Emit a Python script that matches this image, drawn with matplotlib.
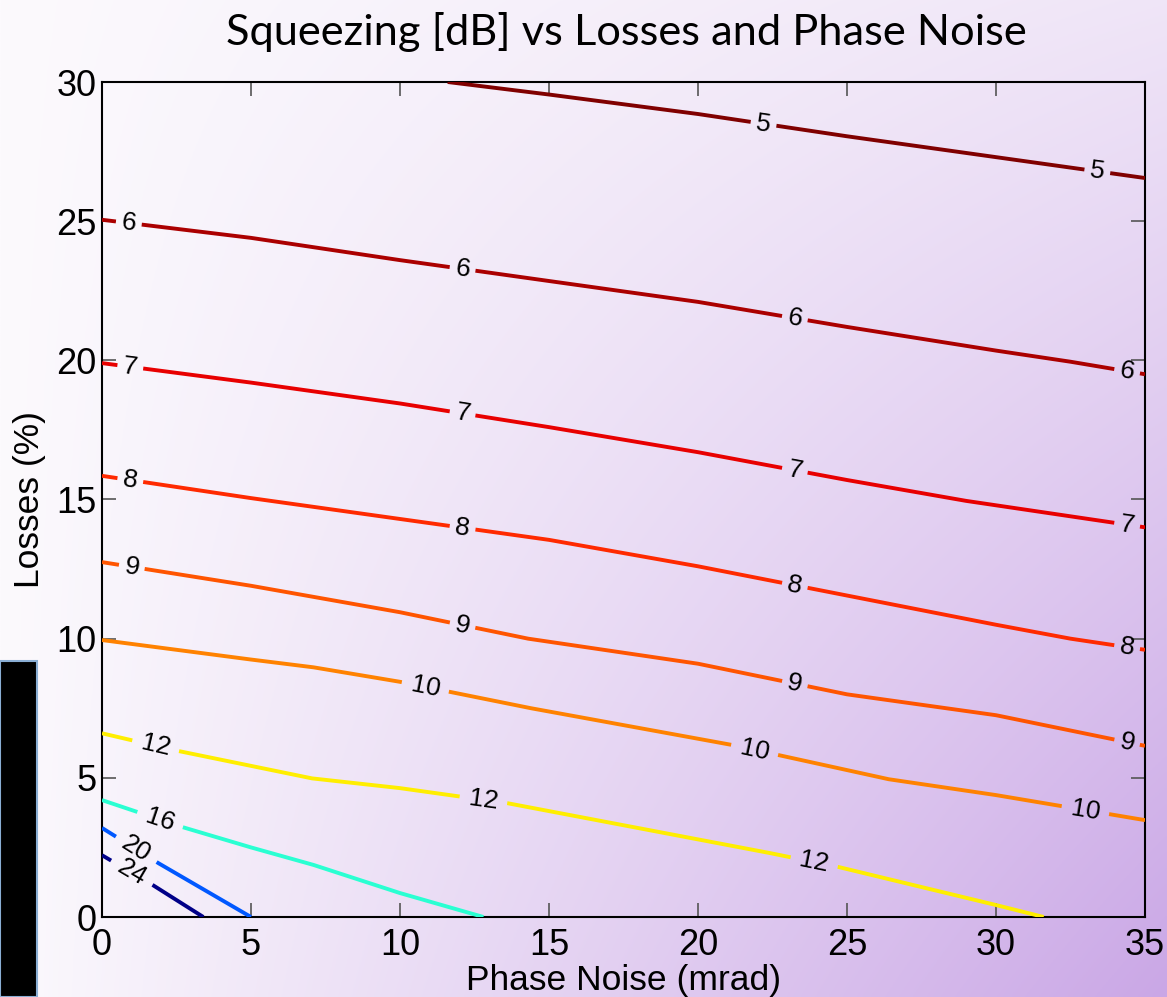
import numpy as np
import matplotlib
matplotlib.use("Agg")
import matplotlib.pyplot as plt
from matplotlib.patches import Rectangle

# ---------------- data ----------------
levels = [5, 6, 7, 8, 9, 10, 12, 16, 20, 24]

pn_5 = [11.6, 15, 20, 25, 30, 35]
loss_5 = [30.0, 29.55, 28.85, 28.05, 27.3, 26.55]

pn_6 = [0, 5, 10, 15, 20, 25, 30, 32.5, 35]
loss_6 = [25.05, 24.4, 23.6, 22.85, 22.1, 21.2, 20.35, 19.95, 19.5]

pn_7 = [0, 5, 10, 15, 20, 25, 29, 35]
loss_7 = [19.9, 19.2, 18.45, 17.6, 16.7, 15.7, 14.95, 14.0]

pn_8 = [0, 5, 10, 15, 20, 25, 30, 32.5, 35]
loss_8 = [15.85, 15.05, 14.3, 13.55, 12.6, 11.55, 10.5, 10.0, 9.6]

pn_9 = [0, 5, 10, 14.3, 20, 25, 30, 35]
loss_9 = [12.75, 11.9, 10.95, 10.0, 9.1, 8.0, 7.25, 6.15]

pn_10 = [0, 5, 7.1, 10, 14.4, 21.2, 26.4, 30, 35]
loss_10 = [9.95, 9.25, 8.97, 8.45, 7.5, 6.17, 4.95, 4.38, 3.48]

pn_12 = [0, 2.4, 7.05, 10, 13.6, 22.4, 24.7, 30, 31.6]
loss_12 = [6.6, 6.0, 4.98, 4.63, 4.09, 2.3, 1.8, 0.43, 0.0]

pn_16 = [0, 2.7, 5, 7.1, 10, 12.8]
loss_16 = [4.2, 3.23, 2.5, 1.87, 0.86, 0.0]

pn_20 = [0, 1.9, 5]
loss_20 = [3.2, 1.93, 0.0]

pn_24 = [0, 1.7, 3.4]
loss_24 = [2.22, 1.15, 0.0]

# x positions (phase noise) of the inline contour labels
labels_at = {
    5: [22.2, 33.4],
    6: [0.9, 12.1, 23.25, 34.4],
    7: [0.95, 12.1, 23.25, 34.4],
    8: [0.95, 12.1, 23.25, 34.4],
    9: [1.0, 12.1, 23.25, 34.4],
    10: [10.85, 21.9, 33.0],
    12: [1.8, 12.8, 23.9],
    16: [1.95],
    20: [1.15],
    24: [1.0],
}

curves = {
    5: (pn_5, loss_5), 6: (pn_6, loss_6), 7: (pn_7, loss_7),
    8: (pn_8, loss_8), 9: (pn_9, loss_9), 10: (pn_10, loss_10),
    12: (pn_12, loss_12), 16: (pn_16, loss_16), 20: (pn_20, loss_20),
    24: (pn_24, loss_24),
}

colors = {
    5: "#800000", 6: "#ab0000", 7: "#e80000", 8: "#ff2a00", 9: "#ff5500",
    10: "#ff8200", 12: "#ffee00", 16: "#2affd2", 20: "#0058ff", 24: "#000088",
}

title = "Squeezing [dB] vs Losses and Phase Noise"
x_ticks = [0, 5, 10, 15, 20, 25, 30, 35]
y_ticks = [0, 5, 10, 15, 20, 25, 30]

# ---------------- figure ----------------
W, H, DPI = 1167, 997, 100
fig = plt.figure(figsize=(W / DPI, H / DPI), dpi=DPI)

# background gradient over the whole figure
bg = fig.add_axes([0, 0, 1, 1], zorder=-10)
u = np.linspace(0, 1, 400)[None, :]
v = np.linspace(0, 1, 400)[:, None]
f = np.clip(u * (0.25 + 0.75 * v), 0, 1)
white = np.array([252, 250, 253]) / 255
purple = np.array([202, 167, 230]) / 255
img = white[None, None, :] + (purple - white)[None, None, :] * f[:, :, None]
bg.imshow(img, extent=[0, 1, 0, 1], aspect="auto", origin="upper")
bg.set_axis_off()

# black box at the left edge
fig.patches.append(Rectangle((0, 0), 37 / W, 336 / H, transform=fig.transFigure,
                             facecolor="black", edgecolor="#8aaed4", linewidth=1.5,
                             zorder=5))

ax_l, ax_r, ax_t, ax_b = 102, 1145, 82, 917
ax = fig.add_axes([ax_l / W, 1 - ax_b / H, (ax_r - ax_l) / W, (ax_b - ax_t) / H])
ax.set_facecolor("none")
ax.set_xlim(0, 35)
ax.set_ylim(0, 30)

font = "Liberation Sans"
ax.set_xticks(x_ticks)
ax.set_yticks(y_ticks)
ax.set_xticklabels([str(t) for t in x_ticks], fontsize=26, family=font)
ax.set_yticklabels([str(t) for t in y_ticks], fontsize=26, family=font)
ax.tick_params(direction="in", length=10, width=1.2, color="#555555",
               top=True, right=True)
ax.tick_params(axis="x", pad=8)
ax.tick_params(axis="y", pad=4)
for s in ax.spines.values():
    s.set_linewidth(1.5)
    s.set_color("black")

ax.set_xlabel("Phase Noise (mrad)", fontsize=25.5, family=font, va="baseline")
ax.xaxis.set_label_coords(0.5, -(990 - ax_b) / (ax_b - ax_t))
ax.set_ylabel("Losses (%)", fontsize=25.5, family=font, va="center")
ax.yaxis.set_label_coords(-(ax_l - 30) / (ax_r - ax_l), 0.5)

fig.text(626 / W, 1 - 45 / H, title, fontsize=31.2, family="Lato",
         ha="center", va="baseline")

# ---------------- contour lines with inline labels ----------------
fig.canvas.draw()
tr = ax.transData
inv = tr.inverted()

for lev in levels:
    xs, ys = curves[lev]
    pts = tr.transform(np.column_stack([xs, ys]))
    seg = np.hypot(np.diff(pts[:, 0]), np.diff(pts[:, 1]))
    s = np.concatenate([[0], np.cumsum(seg)])
    S = s[-1]
    txt = str(lev)
    half = 2 + 11 * len(txt)
    gaps = []
    for lx in labels_at[lev]:
        sl = np.interp(lx, xs, s)
        gaps.append((sl - half, sl + half))
        px = np.interp(sl, s, pts[:, 0])
        py = np.interp(sl, s, pts[:, 1])
        k = min(np.searchsorted(s, sl), len(s) - 1)
        k = max(k, 1)
        ang = np.degrees(np.arctan2(pts[k, 1] - pts[k - 1, 1], pts[k, 0] - pts[k - 1, 0]))
        dx, dy = inv.transform((px, py))
        ax.text(dx, dy, txt, fontsize=19, family=font, rotation=ang,
                rotation_mode="anchor", ha="center", va="center", zorder=4)
    gaps.sort()
    keep = []
    start = 0.0
    for g0, g1 in gaps:
        if g0 > start:
            keep.append((start, g0))
        start = max(start, g1)
    if start < S:
        keep.append((start, S))
    for a, b in keep:
        inner = s[(s > a) & (s < b)]
        ss = np.concatenate([[a], inner, [b]])
        qx = np.interp(ss, s, pts[:, 0])
        qy = np.interp(ss, s, pts[:, 1])
        d = inv.transform(np.column_stack([qx, qy]))
        ax.plot(d[:, 0], d[:, 1], color=colors[lev], linewidth=2.8,
                solid_capstyle="butt", clip_on=True, zorder=3)

fig.savefig("out.png", dpi=DPI)
